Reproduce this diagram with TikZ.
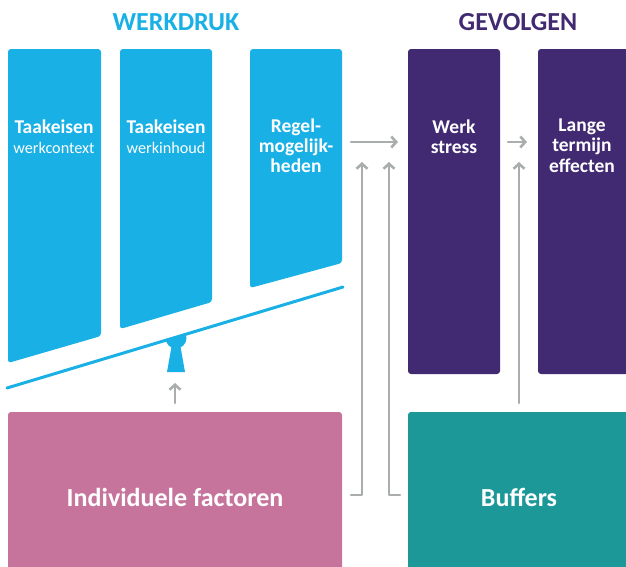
\documentclass[tikz,border=0pt]{standalone}
\usepackage{fontspec}
\setmainfont{Carlito}
\usetikzlibrary{arrows.meta}
\definecolor{wblue}{HTML}{19B0E5}
\definecolor{gpurple}{HTML}{412A72}
\definecolor{bteal}{HTML}{1C9898}
\definecolor{ipink}{HTML}{C7749C}
\definecolor{agray}{HTML}{AAADAD}
\tikzset{
  bluebox/.style={fill=wblue, rounded corners=3pt},
  boxtext/.style={text=white, font=\fontsize{19.5}{20}\selectfont\bfseries, align=center, inner sep=0pt},
  subtext/.style={text=white, font=\fontsize{16.2}{18}\selectfont, inner sep=0pt},
  head/.style={font=\fontsize{26}{28}\selectfont\bfseries, inner sep=0pt},
  bigtext/.style={text=white, font=\fontsize{26}{28}\selectfont\bfseries, inner sep=0pt},
  conn/.style={draw=agray, line width=2.6pt, line cap=round, line join=round},
  arr/.style={conn, -{Straight Barb[length=5pt,width=11pt,line width=2.6pt]}},
}
\begin{document}
\begin{tikzpicture}[x=1pt,y=-1pt]
\useasboundingbox (0,0) rectangle (626,566);
% headings
\node[head, text=wblue] (hw) at (176,22) {WERKDRUK};
\node[head, text=gpurple] (hg) at (518,22) {GEVOLGEN};
% blue boxes with slanted bottoms
\fill[bluebox] (8,49) -- (101,49) -- (101,336) -- (8,363) -- cycle;
\fill[bluebox] (120,49) -- (212,49) -- (212,302) -- (120,329) -- cycle;
\fill[bluebox] (250,49) -- (342,49) -- (342,263) -- (250,288) -- cycle;
\node[boxtext] (t1) at (54,127) {Taakeisen};
\node[subtext] (t1s) at (54,148) {werkcontext};
\node[boxtext] (t2) at (166,127) {Taakeisen};
\node[subtext] (t2s) at (166,148) {werkinhoud};
\node[boxtext] (t3a) at (296,127) {Regel-};
\node[boxtext] (t3b) at (296,147) {mogelijk-};
\node[boxtext] (t3c) at (296,166) {heden};
% beam and fulcrum
\draw[wblue, line width=3pt, line cap=round] (7,388) -- (343,287);
\begin{scope}
  \clip (7,388) -- (343,287) -- (343,400) -- (7,400) -- cycle;
  \fill[wblue] (176,338) circle (10.5);
\end{scope}
\fill[wblue] (172,344) -- (180,344) -- (185,372) -- (167,372) -- cycle;
% purple boxes
\fill[gpurple, rounded corners=3pt] (408,49) rectangle (500,374);
\fill[gpurple, rounded corners=3pt] (538,49) rectangle (640,374);
\node[boxtext] (ws1) at (454,127) {Werk};
\node[boxtext] (ws2) at (454,147) {stress};
\node[boxtext] (lt1) at (582,127) {Lange};
\node[boxtext] (lt2) at (582,146) {termijn};
\node[boxtext] (lt3) at (582,166) {effecten};
% bottom boxes
\fill[ipink, rounded corners=3pt] (8,412) rectangle (342,590);
\fill[bteal, rounded corners=3pt] (408,412) rectangle (640,590);
\node[bigtext] (ind) at (175,497) {Individuele factoren};
\node[bigtext] (buf) at (519,497) {Buffers};
% connectors
\coordinate (a1s) at (351,142);
\coordinate (a1e) at (398,142);
\draw[arr] (a1s) -- (a1e);
\coordinate (a2s) at (508,142);
\coordinate (a2e) at (527,142);
\draw[arr] (a2s) -- (a2e);
\coordinate (f0) at (175,403);
\coordinate (f1) at (175,383);
\draw[arr] (f0) -- (f1);
\coordinate (i0) at (351,495);
\coordinate (i1) at (362,495);
\coordinate (i2) at (362,162);
\draw[arr] (i0) -- (i1) -- (i2);
\coordinate (b0) at (400,495);
\coordinate (b1) at (389,495);
\coordinate (b2) at (389,162);
\draw[arr] (b0) -- (b1) -- (b2);
\coordinate (c0) at (519,403);
\coordinate (c1) at (519,162);
\draw[arr] (c0) -- (c1);
\end{tikzpicture}
\end{document}
